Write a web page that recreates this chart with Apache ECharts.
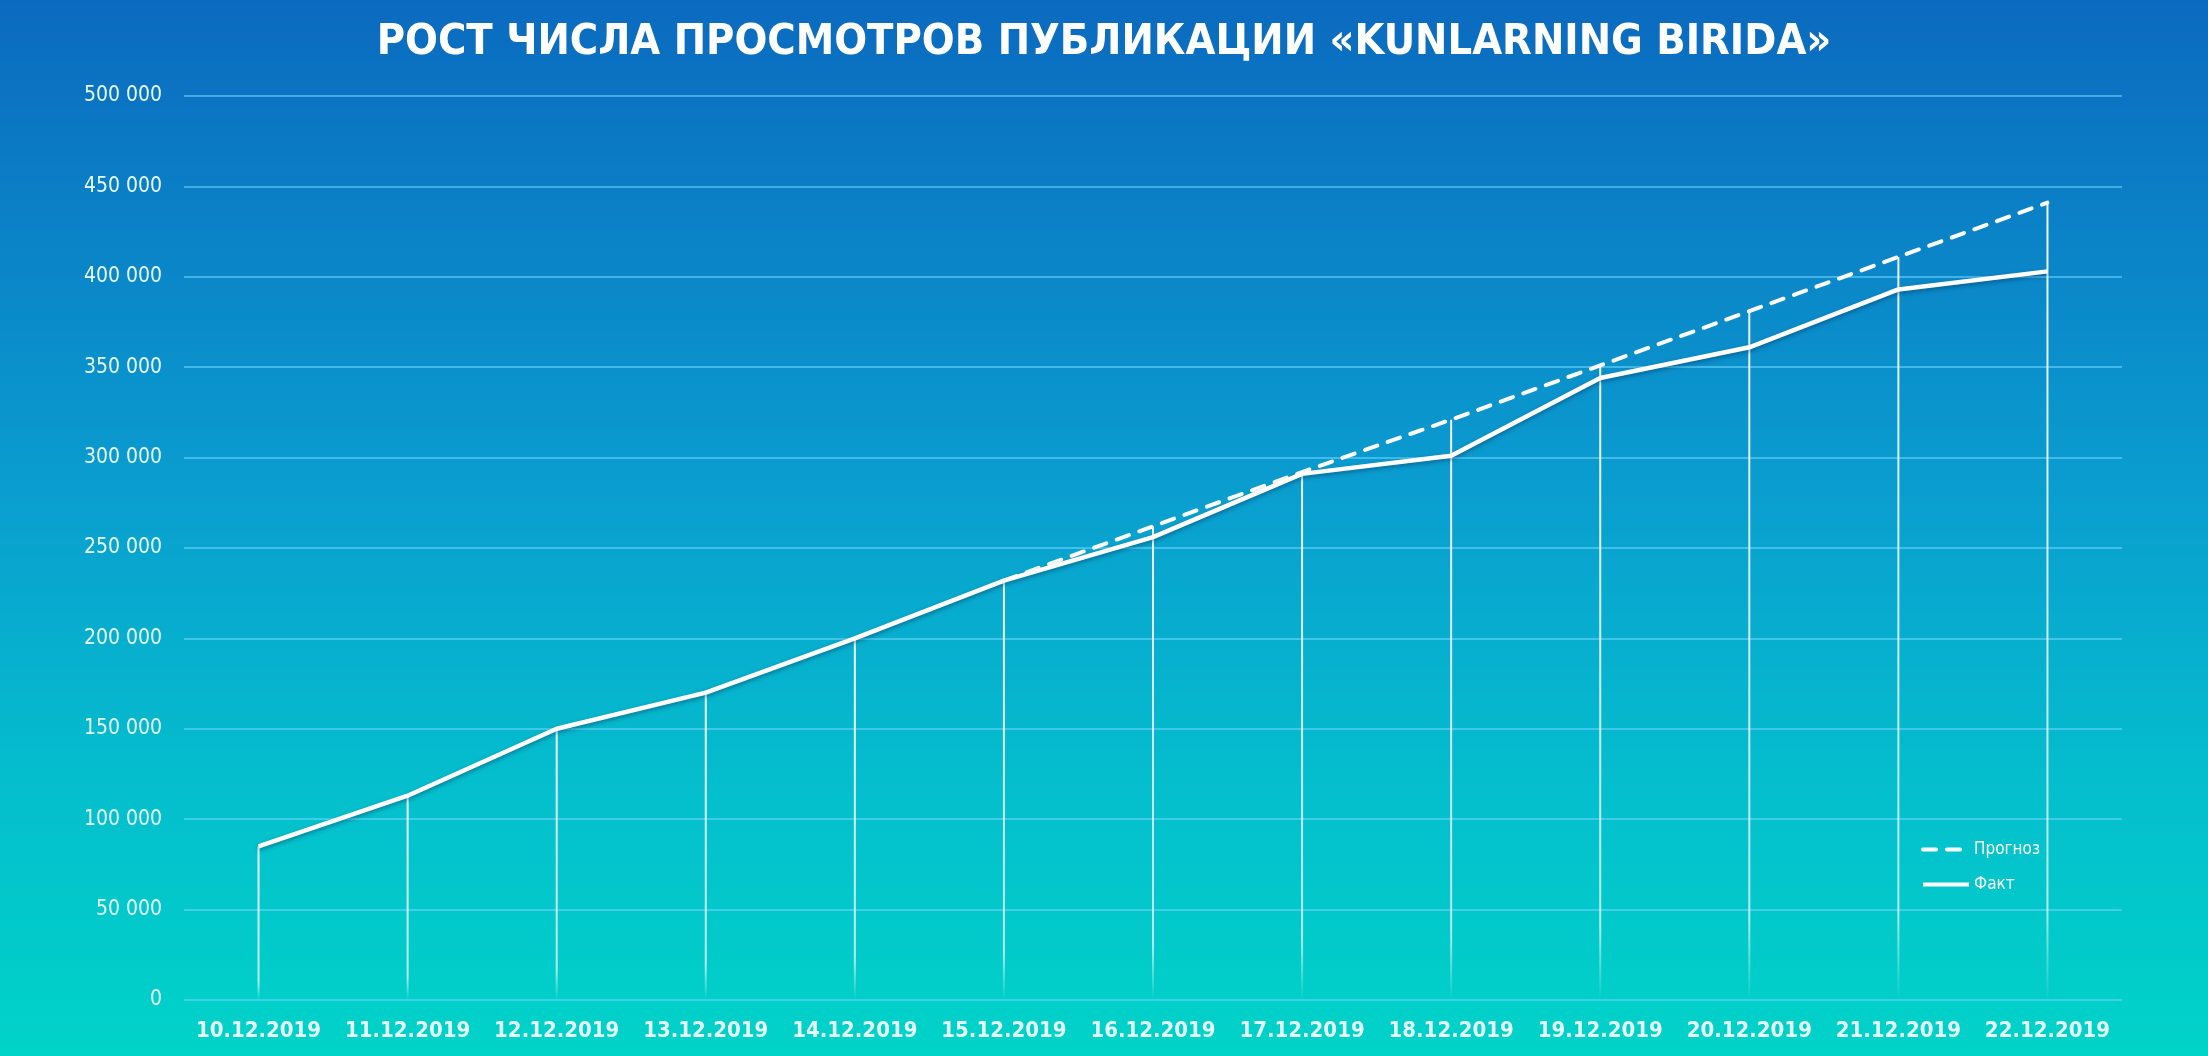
<!DOCTYPE html>
<html>
<head>
<meta charset="utf-8">
<script src="https://cdn.jsdelivr.net/npm/echarts@6/dist/echarts.min.js"></script>
<style>
html,body{margin:0;padding:0;width:2208px;height:1056px;overflow:hidden;}
#c{width:2208px;height:1056px;}
</style>
</head>
<body>
<div id="c"></div>
<script>
var titleText = 'РОСТ ЧИСЛА ПРОСМОТРОВ ПУБЛИКАЦИИ «KUNLARNING BIRIDA»';
var categories = ['10.12.2019','11.12.2019','12.12.2019','13.12.2019','14.12.2019','15.12.2019','16.12.2019','17.12.2019','18.12.2019','19.12.2019','20.12.2019','21.12.2019','22.12.2019'];
var factValues = [85000, 113000, 150000, 170000, 200000, 232000, 256000, 291000, 301000, 344000, 361000, 393000, 403000];
var forecastValues = [null, null, null, null, null, 232000, 262000, 292000, 321000, 351000, 381000, 411000, 441000];
var seriesNames = ['Прогноз', 'Факт'];

var dropValues = categories.map(function(c, i){
  var f = forecastValues[i];
  return (f != null && f > factValues[i]) ? f : factValues[i];
});

var FONT = "'DejaVu Sans Condensed', 'Liberation Sans Narrow', 'Roboto', sans-serif";
var chart = echarts.init(document.getElementById('c'));
chart.setOption({
  animation: false,
  backgroundColor: {
    type: 'linear', x: 0, y: 0, x2: 0, y2: 1,
    colorStops: [
      {offset: 0, color: '#0b6abf'},
      {offset: 0.45, color: '#0a9ccf'},
      {offset: 0.75, color: '#04bfcd'},
      {offset: 1, color: '#00d3c8'}
    ]
  },
  title: {
    text: titleText,
    left: 'center',
    top: 16,
    textStyle: {color: '#ffffff', fontSize: 43, fontWeight: 'bold', fontFamily: FONT}
  },
  legend: {
    data: seriesNames,
    orient: 'vertical',
    left: 1916,
    top: 836,
    itemWidth: 46,
    itemHeight: 14,
    itemGap: 18,
    itemStyle: {color: 'transparent', borderWidth: 0},
    lineStyle: {width: 4},
    textStyle: {color: '#ffffff', fontSize: 17, fontFamily: FONT}
  },
  grid: {left: 184, right: 86, top: 96, bottom: 56, containLabel: false},
  xAxis: {
    type: 'category',
    data: categories,
    boundaryGap: true,
    axisLine: {show: false},
    axisTick: {show: false},
    axisLabel: {interval: 0, color: '#e6fbfb', fontSize: 22, fontWeight: 'bold', fontFamily: FONT, margin: 20}
  },
  yAxis: {
    type: 'value',
    min: 0, max: 500000, interval: 50000,
    axisLine: {show: false},
    axisTick: {show: false},
    splitLine: {lineStyle: {color: 'rgba(110,215,255,0.75)', width: 1.5}},
    axisLabel: {
      color: '#e6fbfb', fontSize: 21, fontFamily: FONT, margin: 22,
      formatter: function(v){ return String(v).replace(/\B(?=(\d{3})+(?!\d))/g, ' '); }
    }
  },
  series: [
    {
      name: 'drop',
      type: 'bar',
      data: dropValues,
      barWidth: 2,
      z: 1,
      silent: true,
      itemStyle: {
        color: {
          type: 'linear', x: 0, y: 0, x2: 0, y2: 1,
          colorStops: [
            {offset: 0, color: 'rgba(255,255,255,0.95)'},
            {offset: 0.88, color: 'rgba(255,255,255,0.7)'},
            {offset: 1, color: 'rgba(255,255,255,0)'}
          ]
        }
      }
    },
    {
      name: seriesNames[0],
      type: 'line',
      data: forecastValues,
      symbol: 'none',
      connectNulls: false,
      z: 3,
      lineStyle: {color: '#ffffff', width: 4, type: [13, 11], cap: 'round'},
      itemStyle: {color: '#ffffff'}
    },
    {
      name: seriesNames[1],
      type: 'line',
      data: factValues,
      symbol: 'none',
      z: 4,
      lineStyle: {color: '#ffffff', width: 4.5, shadowColor: 'rgba(0,40,80,0.45)', shadowBlur: 4, shadowOffsetY: 2},
      itemStyle: {color: '#ffffff'}
    }
  ]
});
</script>
</body>
</html>
